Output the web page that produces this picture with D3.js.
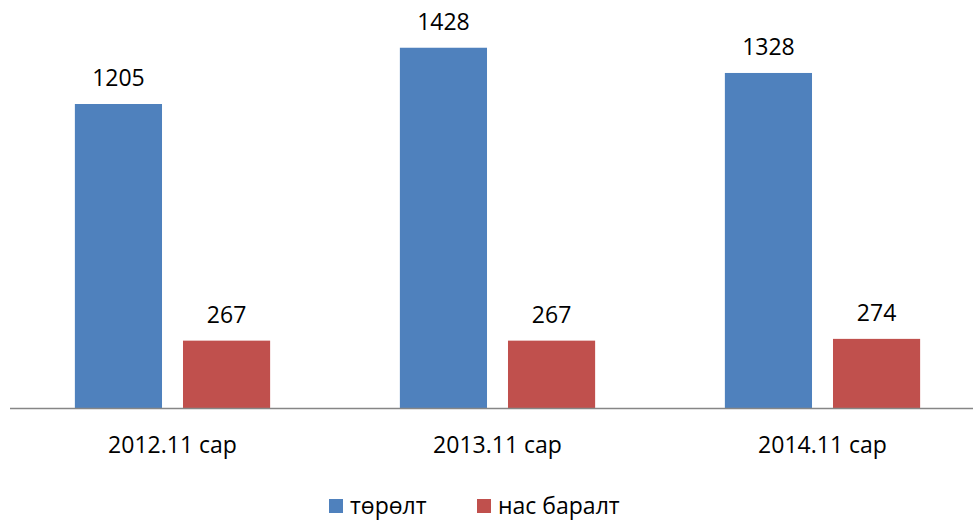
<!DOCTYPE html>
<html>
<head>
<meta charset="utf-8">
<script src="https://cdn.jsdelivr.net/npm/d3@7"></script>
<style>
  body { margin: 0; background: #fff; }
  text { font-family: "Open Sans", "Liberation Sans", sans-serif; fill: #000; }
</style>
</head>
<body>
<div id="chart"></div>
<script>
// Data
const categories = ['2012.11 сар', '2013.11 сар', '2014.11 сар'];
const seriesNames = ['төрөлт', 'нас баралт'];
const births = [1205, 1428, 1328];
const deaths = [267, 267, 274];
const colors = ['#4F81BD', '#C0504D'];

const width = 973, height = 522;
const baseY = 408;
const fs = 23;

const svg = d3.select('#chart').append('svg')
    .attr('width', width)
    .attr('height', height);

const x0 = d3.scaleBand()
    .domain(categories)
    .range([10, 985])
    .paddingInner(0)
    .paddingOuter(0);

const x1 = d3.scaleBand()
    .domain(seriesNames)
    .range([0, x0.bandwidth()])
    .paddingInner(0.194)
    .paddingOuter(0.6);

const y = d3.scaleLinear()
    .domain([0, 1205])
    .range([baseY, 104]);

const rows = categories.map((c, i) => ({
    cat: c,
    vals: [births[i], deaths[i]]
}));

const groups = svg.selectAll('g.grp')
    .data(rows)
    .enter().append('g')
    .attr('class', 'grp')
    .attr('transform', d => `translate(${x0(d.cat)},0)`);

groups.selectAll('rect')
    .data(d => d.vals.map((v, j) => ({ name: seriesNames[j], v: v, j: j })))
    .enter().append('rect')
    .attr('x', d => x1(d.name))
    .attr('y', d => y(d.v))
    .attr('width', x1.bandwidth())
    .attr('height', d => baseY - y(d.v))
    .attr('fill', d => colors[d.j]);

groups.selectAll('text.val')
    .data(d => d.vals.map((v, j) => ({ name: seriesNames[j], v: v })))
    .enter().append('text')
    .attr('class', 'val')
    .attr('x', d => x1(d.name) + x1.bandwidth() / 2)
    .attr('y', d => y(d.v) - 18)
    .attr('text-anchor', 'middle')
    .attr('font-size', fs)
    .text(d => d.v);

// x axis line
svg.append('line')
    .attr('x1', 10).attr('x2', width)
    .attr('y1', baseY + 0.5).attr('y2', baseY + 0.5)
    .attr('stroke', '#868686')
    .attr('stroke-width', 1.5);

svg.selectAll('text.cat')
    .data(categories)
    .enter().append('text')
    .attr('class', 'cat')
    .attr('x', d => x0(d) + x0.bandwidth() / 2)
    .attr('y', 453)
    .attr('text-anchor', 'middle')
    .attr('font-size', fs)
    .text(d => d);

// legend
const legendX = [329, 477];
const legend = svg.selectAll('g.leg')
    .data(seriesNames)
    .enter().append('g')
    .attr('class', 'leg')
    .attr('transform', (d, i) => `translate(${legendX[i]},499)`);

legend.append('rect')
    .attr('width', 14).attr('height', 14)
    .attr('fill', (d, i) => colors[i]);

legend.append('text')
    .attr('x', 21)
    .attr('y', 15)
    .attr('font-size', fs)
    .text(d => d);
</script>
</body>
</html>
